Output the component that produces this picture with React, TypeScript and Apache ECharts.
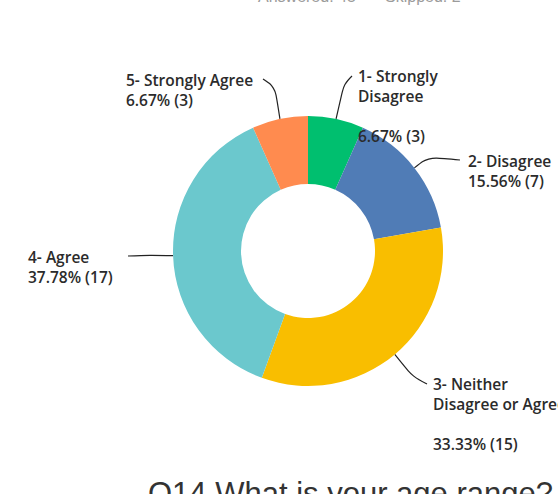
import React, { useEffect, useRef } from "react";
import * as echarts from "echarts";

const CATEGORIES = [
  "1- Strongly Disagree",
  "2- Disagree",
  "3- Neither Disagree or Agree",
  "4- Agree",
  "5- Strongly Agree",
];
const COUNTS = [3, 7, 15, 17, 3];
const PERCENTS = ["6.67%", "15.56%", "33.33%", "37.78%", "6.67%"];
// wrapped label text as shown in the chart
const LABEL_NAMES = [
  "1- Strongly\nDisagree\n",
  "2- Disagree",
  "3- Neither\nDisagree or Agree\n",
  "4- Agree",
  "5- Strongly Agree",
];
const COLORS = ["#00BF6F", "#507CB6", "#F9BE00", "#6BC8CD", "#FF8B4F"];
const ANSWERED = "Answered: 45";
const SKIPPED = "Skipped: 2";
const TITLE = "Q14 What is your age range?";

// label placement (layout only)
const LABEL_POS: number[][] = [
  [358, 66],
  [468, 150.5],
  [433, 374],
  [28, 246.5],
  [126, 69.5],
];
const LINE_BENDS: number[][][] = [
  [[344, 84], [352, 76]],
  [[428, 157], [460, 160]],
  [[413, 377], [427, 384]],
  [[150, 255], [128, 256]],
  [[275, 87], [263, 79]],
];

export default function App() {
  const ref = useRef<HTMLDivElement>(null);
  useEffect(() => {
    if (!ref.current) return;
    const chart = echarts.init(ref.current, undefined, { renderer: "svg" });
    const data = CATEGORIES.map((c, i) => ({
      name: c,
      value: COUNTS[i],
      itemStyle: { color: COLORS[i] },
    }));
    chart.setOption({
      animation: false,
      backgroundColor: "#ffffff",
      graphic: [
        {
          type: "text",
          left: 258,
          top: -12,
          style: { text: ANSWERED, font: "16px 'Liberation Sans', Arial", fill: "#9b9b9b" },
        },
        {
          type: "text",
          left: 385,
          top: -12,
          style: { text: SKIPPED, font: "16px 'Liberation Sans', Arial", fill: "#9b9b9b" },
        },
        {
          type: "text",
          left: 148,
          top: 478,
          style: { text: TITLE, font: "31px 'Liberation Sans', Arial", fill: "#333333" },
        },
      ],
      series: [
        {
          type: "pie",
          center: [308, 251],
          radius: [67, 135],
          startAngle: 90,
          clockwise: true,
          silent: true,
          data,
          label: {
            show: true,
            position: "outside",
            formatter: (p: any) =>
              `${LABEL_NAMES[p.dataIndex]}\n${PERCENTS[p.dataIndex]} (${COUNTS[p.dataIndex]})`,
            color: "#2b2b2b",
            fontSize: 15.5,
            fontFamily: "'Open Sans', 'Noto Sans', sans-serif",
            fontWeight: 600,
            lineHeight: 20,
            align: "left",
            overflow: "none",
            width: 300,
          },
          labelLine: {
            show: true,
            smooth: 0.35,
            length: 20,
            length2: 20,
            lineStyle: { color: "#222222", width: 1.2 },
          },
          labelLayout: (params: any) => {
            const i = params.dataIndex;
            const pts = params.labelLinePoints;
            const start = pts ? pts[0] : [0, 0];
            return {
              x: LABEL_POS[i][0],
              y: LABEL_POS[i][1],
              align: "left",
              verticalAlign: "top",
              labelLinePoints: [start, LINE_BENDS[i][0], LINE_BENDS[i][1]],
            };
          },
        },
      ],
    });
    return () => chart.dispose();
  }, []);
  return (
    <div
      ref={ref}
      style={{ position: "fixed", left: 0, top: 0, width: 558, height: 494 }}
    />
  );
}
